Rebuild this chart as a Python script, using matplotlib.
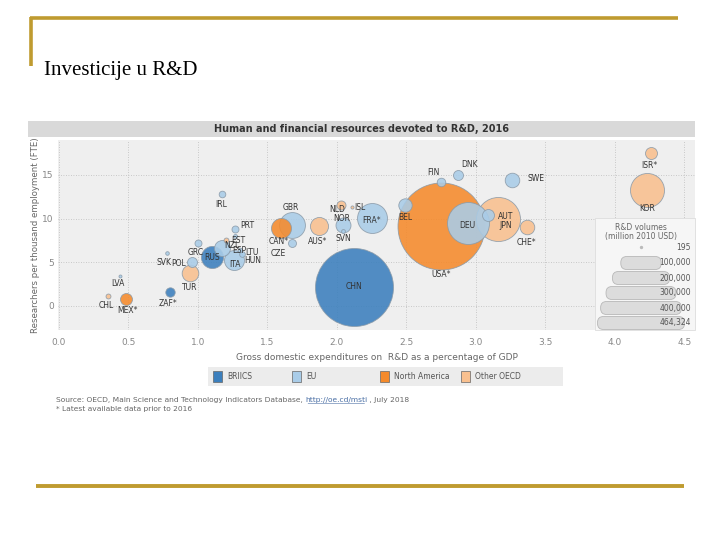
import numpy as np
import matplotlib
matplotlib.use("Agg")
import matplotlib.pyplot as plt
from matplotlib.patches import Rectangle, FancyBboxPatch

# --- data ---
countries = ["USA*", "CHN", "JPN", "DEU", "KOR", "FRA*", "GBR", "RUS", "CAN*", "ITA",
             "AUS*", "TUR", "ESP", "NLD", "SWE", "CHE*", "BEL", "ISR*", "AUT", "MEX*",
             "POL", "DNK", "ZAF*", "NOR", "FIN", "CZE", "PRT", "GRC", "IRL", "HUN",
             "NZL", "LTU", "EST", "SVN", "ISL", "SVK", "CHL", "LVA"]
gerd_pct = [2.75, 2.12, 3.16, 2.94, 4.23, 2.25, 1.68, 1.10, 1.60, 1.26,
            1.87, 0.94, 1.17, 2.04, 3.26, 3.37, 2.49, 4.26, 3.09, 0.48,
            0.96, 2.87, 0.80, 2.03, 2.75, 1.68, 1.27, 1.00, 1.17, 1.32,
            1.20, 1.30, 1.27, 2.04, 2.11, 0.78, 0.35, 0.44]
researchers = [9.1, 2.2, 10.0, 9.5, 13.3, 10.1, 9.3, 5.6, 8.9, 5.3,
               9.2, 3.8, 6.6, 9.3, 14.4, 9.0, 11.6, 17.5, 10.4, 0.8,
               5.0, 15.0, 1.6, 11.6, 14.2, 7.2, 8.8, 7.2, 12.8, 6.0,
               7.6, 6.4, 8.0, 8.6, 11.3, 6.1, 1.1, 3.4]
volume = [464324, 373000, 119000, 108000, 71000, 55000, 41000, 30000, 24500, 24500,
          20000, 17000, 15700, 13800, 13000, 13000, 11000, 8800, 8800, 8800,
          6100, 6100, 5400, 5000, 4500, 3900, 3000, 3000, 2700, 2000,
          1500, 1200, 1000, 900, 600, 800, 1500, 500]
group = ["NA", "BRIICS", "OTH", "EU", "OTH", "EU", "EU", "BRIICS", "NA", "EU",
         "OTH", "OTH", "EU", "EU", "EU", "OTH", "EU", "OTH", "EU", "NA",
         "EU", "EU", "BRIICS", "OTH", "EU", "EU", "EU", "EU", "EU", "EU",
         "OTH", "EU", "EU", "EU", "OTH", "EU", "OTH", "EU"]

legend_groups = ["BRIICS", "EU", "North America", "Other OECD"]
legend_volumes = [195, 100000, 200000, 300000, 400000, 464324]
legend_volume_labels = ["195", "100,000", "200,000", "300,000", "400,000", "464,324"]

colors = {"BRIICS": "#3b7fbd", "EU": "#a9cce8", "NA": "#f58a2b", "OTH": "#f9c08f"}
legend_keys = ["BRIICS", "EU", "NA", "OTH"]

# label offsets in pixels (dx right, dy down) relative to bubble centre
label_off = {
    "USA*": (0, 48), "CHN": (0, 0), "JPN": (8, 7), "DEU": (0, 3), "KOR": (0, 19),
    "FRA*": (0, 3), "GBR": (-2, -17), "RUS": (0, 0), "CAN*": (-3, 13), "ITA": (1, 5),
    "AUS*": (-1, 16), "TUR": (0, 15), "ESP": (18, 2), "NLD": (-5, -15), "SWE": (24, -2),
    "CHE*": (-1, 15), "BEL": (0, 13), "ISR*": (-2, 12), "AUT": (17, 1), "MEX*": (2, 12),
    "POL": (-14, 1), "DNK": (12, -10), "ZAF*": (-2, 11), "NOR": (1, 14), "FIN": (-8, -9),
    "CZE": (-14, 10), "PRT": (12, -4), "GRC": (-2, 9), "IRL": (0, 10), "HUN": (10, 7),
    "NZL": (6, 6), "LTU": (12, 2), "EST": (3, 4), "SVN": (1, 8), "ISL": (8, 0),
    "SVK": (-3, 10), "CHL": (-1, 9), "LVA": (-2, 7),
}

W, H = 720, 540
fig = plt.figure(figsize=(7.2, 5.4), dpi=100)
fig.patch.set_facecolor("white")

def fx(px):
    return px / W

def fy(py):
    return 1 - py / H

# main scatter axes (pixel box 58..695 x 140..330)
ax = fig.add_axes([fx(58), fy(330), fx(695) - fx(58), (330 - 140) / H])
ax.set_facecolor("#efefef")
ax.set_xlim(-0.007, 4.576)
ax.set_ylim(-2.75, 19.0)
for s in ax.spines.values():
    s.set_visible(False)
ax.set_xticks(np.arange(0, 4.6, 0.5))
ax.set_yticks([0, 5, 10, 15])
ax.set_xticklabels([f"{v:.1f}" for v in np.arange(0, 4.6, 0.5)])
ax.tick_params(axis="x", length=0, labelsize=6.5, labelcolor="#888888", pad=6)
ax.tick_params(axis="y", length=0, labelsize=6.5, labelcolor="#888888", pad=3)
ax.grid(True, color="#bbbbbb", linestyle=(0, (1, 2)), linewidth=0.6)
ax.set_axisbelow(True)
ax.set_xlabel("Gross domestic expenditures on  R&D as a percentage of GDP",
              fontsize=6.5, color="#666666", labelpad=4)
ax.set_ylabel("Researchers per thousand employment (FTE)",
              fontsize=6.2, color="#666666", labelpad=2)

r_max_px = 43.5
px2pt = 72 / fig.dpi
order = np.argsort(volume)[::-1]
for i in order:
    r_px = r_max_px * np.sqrt(volume[i] / 464324)
    r_px = max(r_px, 1.5)
    ax.scatter(gerd_pct[i], researchers[i], s=(2 * r_px * px2pt) ** 2,
               color=colors[group[i]], edgecolor="#8a9aa8", linewidth=0.6,
               alpha=0.88, zorder=3)
for i, c in enumerate(countries):
    dx, dy = label_off[c]
    ax.annotate(c, (gerd_pct[i], researchers[i]), xytext=(dx * px2pt, -dy * px2pt),
                textcoords="offset points", ha="center", va="center",
                fontsize=5.5, color="#333333", zorder=5)

# overlay axes in pixel coordinates for decoration
ov = fig.add_axes([0, 0, 1, 1], facecolor="none")
ov.set_xlim(0, W)
ov.set_ylim(H, 0)
ov.axis("off")

gold = "#bf9b30"
ov.plot([30, 678], [18, 18], color=gold, lw=2.6, solid_capstyle="butt")
ov.plot([31, 31], [17, 66], color=gold, lw=2.6, solid_capstyle="butt")
ov.plot([36, 684], [486, 486], color=gold, lw=2.8, solid_capstyle="butt")
ov.text(44, 70, "Investicije u R&D", fontsize=15, family="Liberation Serif",
        ha="left", va="center", color="black")

# chart title bar
ov.add_patch(Rectangle((28, 121), 667, 16, facecolor="#d9d9d9", edgecolor="none"))
ov.text(362, 129, "Human and financial resources devoted to R&D, 2016",
        fontsize=7, fontweight="bold", color="#333333", ha="center", va="center")

# R&D volume legend panel
ov.add_patch(Rectangle((595, 218), 100, 112, facecolor="#f6f6f6", edgecolor="#dddddd", lw=0.6))
ov.text(641, 227, "R&D volumes", fontsize=5.5, color="#666666", ha="center", va="center")
ov.text(641, 236, "(million 2010 USD)", fontsize=5.5, color="#666666", ha="center", va="center")
rows_y = [247, 263, 278, 293, 308, 323]
for v, lab, yy in zip(legend_volumes, legend_volume_labels, rows_y):
    d = 2 * r_max_px * np.sqrt(v / 464324)
    if v < 1000:
        ov.scatter([641], [yy], s=2, color="#bbbbbb", zorder=4)
    else:
        ov.add_patch(FancyBboxPatch((641 - d / 2, yy - 6.5), d, 13,
                                    boxstyle="round,pad=0,rounding_size=6",
                                    facecolor="#dcdcdc", edgecolor="#b8b8b8", lw=0.6, zorder=3))
    ov.text(691, yy, lab, fontsize=5.5, color="#555555", ha="right", va="center", zorder=5)

# group legend box
ov.add_patch(Rectangle((208, 367), 355, 19, facecolor="#ececec", edgecolor="none"))
leg_x = [213, 292, 380, 461]
for key, name, lx in zip(legend_keys, legend_groups, leg_x):
    ov.add_patch(Rectangle((lx, 371), 9, 11, facecolor=colors[key], edgecolor="#666666", lw=0.5))
    ov.text(lx + 14, 376.5, name, fontsize=5.5, color="#555555", ha="left", va="center")

# source notes, pieces chained one after another
t1 = ov.text(56, 400, "Source: OECD, Main Science and Technology Indicators Database, ",
             fontsize=5.4, color="#666666", ha="left", va="center")
t2 = ov.annotate("http://oe.cd/msti", xy=(1, 0.5), xycoords=t1, va="center", ha="left",
                 fontsize=5.4, color="#4a6fa5")
t3 = ov.annotate(" , July 2018", xy=(1, 0.5), xycoords=t2, va="center", ha="left",
                 fontsize=5.4, color="#666666")
ov.annotate("", xy=(0, -0.05), xycoords=t2, xytext=(1, -0.05), textcoords=t2,
            arrowprops=dict(arrowstyle="-", color="#4a6fa5", lw=0.4))
ov.text(56, 409, "* Latest available data prior to 2016", fontsize=5.4, color="#666666",
        ha="left", va="center")

fig.savefig("out.png", dpi=100)
